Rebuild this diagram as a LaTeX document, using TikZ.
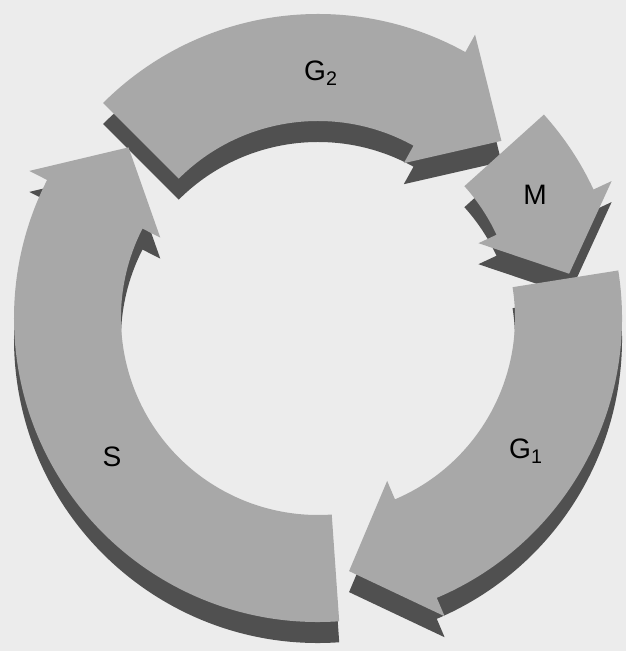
\documentclass[tikz,border=0pt]{standalone}
\usepackage{fontspec}
\setmainfont{Liberation Sans}
\definecolor{paper}{RGB}{236,236,236}
\definecolor{phase}{RGB}{168,168,168}
\definecolor{depth}{RGB}{80,80,80}
\newcommand{\rout}{6.08}
\newcommand{\rin}{3.94}
\newcommand{\barb}{0.4}
\newcommand{\rtip}{5.1}
% one curved arrow of the ring: tail angle, head base angle, tip angle (clockwise)
\newcommand{\phasearrow}[3]{(#1:\rout) arc[start angle=#1, end angle=#2, radius=\rout]
  -- ({#2}:{\rout+\barb}) -- ({#3}:\rtip) -- ({#2}:{\rin-\barb}) -- (#2:\rin)
  arc[start angle=#2, end angle=#1, radius=\rin] -- cycle}

\begin{document}
\begin{tikzpicture}[every node/.style={font=\fontsize{16}{18}\selectfont}]
 \fill[paper] (-6.36,-6.66) rectangle (6.16,6.36);
 \useasboundingbox (-6.36,-6.66) rectangle (6.16,6.36);
 % depth of the ring
 \begin{scope}[yshift=-0.42cm]
   \fill[depth] \phasearrow{-86}{-207}{-222};
   \fill[depth] \phasearrow{135}{61}{44};
   \fill[depth] \phasearrow{42}{25}{10};
   \fill[depth] \phasearrow{9}{-67}{-83};
 \end{scope}
 % faces
 \fill[phase] \phasearrow{-86}{-207}{-222};
 \fill[phase] \phasearrow{135}{61}{44};
 \fill[phase] \phasearrow{42}{25}{10};
 \fill[phase] \phasearrow{9}{-67}{-83};
 \node (S) at (-4.12,-2.78) {S};
 \node (G2) at (0.06,4.90) {G\textsubscript{2}};
 \node (M) at (4.34,2.46) {M};
 \node (G1) at (4.16,-2.66) {G\textsubscript{1}};
\end{tikzpicture}
\end{document}
